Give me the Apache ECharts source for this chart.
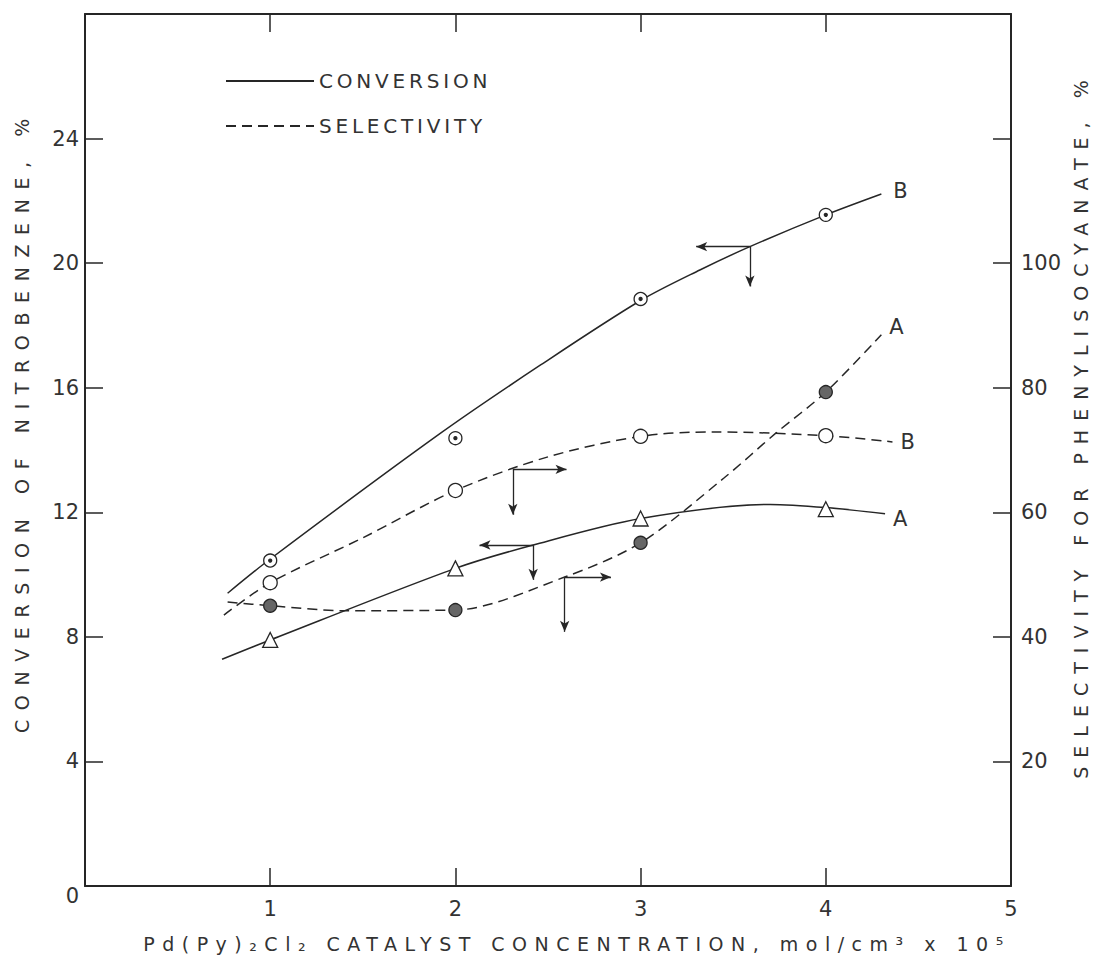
<!DOCTYPE html>
<html>
<head>
<meta charset="utf-8">
<title>Conversion and selectivity vs catalyst concentration</title>
<script src="https://cdn.jsdelivr.net/npm/echarts@6/dist/echarts.min.js"></script>
<style>
  html, body { margin: 0; padding: 0; background: #fff; }
  #chart { width: 1099px; height: 979px; }
</style>
</head>
<body>
<div id="chart"></div>
<script>
// catalyst concentration, mol/cm3 x 10^5
const concentrations = [1, 2, 3, 4];

// measured points: conversion of nitrobenzene (%) on the left axis
const conversionB = [10.45, 14.38, 18.85, 21.55];
const conversionA = [7.9, 10.2, 11.8, 12.1];
// selectivity for phenylisocyanate (%) on the right axis
const selectivityB = [48.7, 63.5, 72.2, 72.3];
const selectivityA = [45.0, 44.3, 55.1, 79.3];

// the drawn (fitted) curves as [concentration, value]
const conversionBCurve = [[0.77, 9.4], [1, 10.5], [1.92, 14.54], [2.46, 16.73], [3, 18.8], [3.32, 19.78], [3.59, 20.53], [4, 21.55], [4.3, 22.22]];
const conversionACurve = [[0.74, 7.28], [1, 7.9], [2, 10.2], [2.42, 10.95], [3, 11.8], [3.7, 12.25], [4, 12.15], [4.32, 11.95]];
const selectivityBCurve = [[0.75, 43.5], [1, 48.7], [1.5, 55.9], [2, 63.5], [2.5, 68.9], [3, 72.2], [3.4, 72.9], [4, 72.3], [4.36, 71.3]];
const selectivityACurve = [[0.77, 45.6], [1, 45.0], [1.4, 44.2], [2, 44.3], [2.59, 49.6], [3, 55.1], [3.45, 65.5], [3.73, 72.7], [4, 79.3], [4.3, 88.5]];

// arrows telling which axis a curve belongs to: [from, to]
const conversionArrows = [
    [[3.59, 20.53], [3.3, 20.53]], [[3.59, 20.53], [3.59, 19.25]],
    [[2.42, 10.95], [2.13, 10.95]], [[2.42, 10.95], [2.42, 9.83]]
];
const selectivityArrows = [
    [[2.31, 66.9], [2.6, 66.9]], [[2.31, 66.9], [2.31, 59.6]],
    [[2.59, 49.6], [2.84, 49.6]], [[2.59, 49.6], [2.59, 40.8]]
];

// tick labels that are printed
const xLabels = [1, 2, 3, 4, 5];
const leftLabels = [0, 4, 8, 12, 16, 20, 24];
const rightLabels = [20, 40, 60, 80, 100];

const xTitle = 'Pd(Py)₂Cl₂ CATALYST CONCENTRATION, mol/cm³ x 10⁵';
const leftTitle = 'CONVERSION OF NITROBENZENE, %';
const rightTitle = 'SELECTIVITY FOR PHENYLISOCYANATE, %';

const FONT = 'DejaVu Sans';
const INK = '#262626';
const TEXT = '#333';

// extra letter spacing of the hand lettering, applied to the svg text
const letterGaps = {};
letterGaps[xTitle] = 7.5;
letterGaps[leftTitle] = 9.6;
letterGaps[rightTitle] = 9;
letterGaps['CONVERSION'] = 3.8;
letterGaps['SELECTIVITY'] = 3.8;

function points(values) {
    return concentrations.map(function (c, i) {
        return [c, values[i]];
    });
}

function curve(name, data, yAxisIndex, dashed, label, labelOffset) {
    return {
        name: name,
        type: 'line',
        yAxisIndex: yAxisIndex,
        data: data,
        smooth: 0.3,
        symbol: 'none',
        silent: true,
        itemStyle: { color: INK },
        lineStyle: { color: INK, width: 1.5, type: dashed ? [10, 6] : 'solid' },
        endLabel: {
            show: true,
            formatter: label,
            distance: 8,
            offset: labelOffset,
            fontFamily: FONT,
            fontSize: 21,
            color: TEXT
        },
        z: 2
    };
}

function marks(name, values, yAxisIndex, symbol, size, fill) {
    return {
        name: name,
        type: 'scatter',
        yAxisIndex: yAxisIndex,
        data: points(values),
        symbol: symbol,
        symbolSize: size,
        silent: true,
        itemStyle: { color: fill, borderColor: INK, borderWidth: 1.3, opacity: 1 },
        z: 5
    };
}

function arrows(list) {
    return {
        silent: true,
        symbol: ['none', 'arrow'],
        symbolSize: [7, 11],
        label: { show: false },
        lineStyle: { color: INK, width: 1.3, type: 'solid' },
        data: list.map(function (a) {
            return [{ coord: a[0] }, { coord: a[1] }];
        })
    };
}

const tickStyle = { show: true, inside: true, length: 18, lineStyle: { color: INK, width: 1.5 } };
const lineStyle = { show: true, onZero: false, lineStyle: { color: INK, width: 2 } };

const chart = echarts.init(document.getElementById('chart'), null, { renderer: 'svg' });

const conversionBLine = curve('CONVERSION', conversionBCurve, 0, false, 'B', [4, -3]);
conversionBLine.markLine = arrows(conversionArrows);
const selectivityBLine = curve('SELECTIVITY', selectivityBCurve, 1, true, 'B', [0, 0]);
selectivityBLine.markLine = arrows(selectivityArrows);

const options = {
    animation: false,
    backgroundColor: '#fff',
    grid: { left: 85, right: 88, top: 14, bottom: 93 },
    legend: {
        data: ['CONVERSION', 'SELECTIVITY'],
        orient: 'vertical',
        left: 220,
        top: 66,
        itemWidth: 88,
        itemHeight: 14,
        itemGap: 25,
        selectedMode: false,
        itemStyle: { opacity: 0 },
        textStyle: { fontFamily: FONT, fontSize: 20, color: TEXT }
    },
    xAxis: [{
        type: 'value',
        min: 0, max: 5, interval: 1,
        axisLine: lineStyle,
        axisTick: tickStyle,
        splitLine: { show: false },
        axisLabel: {
            margin: 12,
            fontFamily: FONT, fontSize: 21, color: TEXT,
            formatter: function (v) { return xLabels.indexOf(v) >= 0 ? String(v) : ''; }
        },
        name: xTitle,
        nameLocation: 'middle',
        nameGap: 48,
        nameTextStyle: { fontFamily: FONT, fontSize: 19, color: TEXT, padding: [0, 0, 0, 58] }
    }, {
        type: 'value',
        position: 'top',
        min: 0, max: 5, interval: 1,
        axisLine: lineStyle,
        axisTick: tickStyle,
        axisLabel: { show: false },
        splitLine: { show: false }
    }],
    yAxis: [{
        type: 'value',
        min: 0, max: 28, interval: 4,
        axisLine: lineStyle,
        axisTick: tickStyle,
        splitLine: { show: false },
        axisLabel: {
            margin: 6,
            fontFamily: FONT, fontSize: 21, color: TEXT,
            formatter: function (v) {
                if (v === 0) return '{z|0}';
                return leftLabels.indexOf(v) >= 0 ? String(v) : '';
            },
            rich: { z: { fontFamily: FONT, fontSize: 21, color: TEXT, padding: [20, 0, 0, 0] } }
        },
        name: leftTitle,
        nameLocation: 'middle',
        nameGap: 54,
        nameTextStyle: { fontFamily: FONT, fontSize: 19, color: TEXT, padding: [0, 0, 0, 58] }
    }, {
        type: 'value',
        position: 'right',
        min: 0, max: 140, interval: 20,
        axisLine: lineStyle,
        axisTick: tickStyle,
        splitLine: { show: false },
        axisLabel: {
            margin: 10,
            fontFamily: FONT, fontSize: 21, color: TEXT,
            formatter: function (v) { return rightLabels.indexOf(v) >= 0 ? String(v) : ''; }
        },
        name: rightTitle,
        nameLocation: 'middle',
        nameGap: 60,
        nameTextStyle: { fontFamily: FONT, fontSize: 19, color: TEXT, padding: [0, 0, 0, 50] }
    }],
    series: [
        conversionBLine,
        curve('CONVERSION', conversionACurve, 0, false, 'A', [0, 5]),
        selectivityBLine,
        curve('SELECTIVITY', selectivityACurve, 1, true, 'A', [0, -8]),
        marks('conversion B', conversionB, 0, 'circle', 13, '#fff'),
        marks('conversion B centre', conversionB, 0, 'circle', 3, INK),
        marks('conversion A', conversionA, 0, 'triangle', 15, '#fff'),
        marks('selectivity B', selectivityB, 1, 'circle', 14, '#fff'),
        marks('selectivity A', selectivityA, 1, 'circle', 13, '#666')
    ]
};

function spreadLetters() {
    chart.getDom().querySelectorAll('text').forEach(function (el) {
        const gap = letterGaps[el.textContent];
        if (gap) {
            el.setAttribute('letter-spacing', gap);
        }
    });
}

chart.setOption(options);
spreadLetters();
chart.on('finished', spreadLetters);
</script>
</body>
</html>
